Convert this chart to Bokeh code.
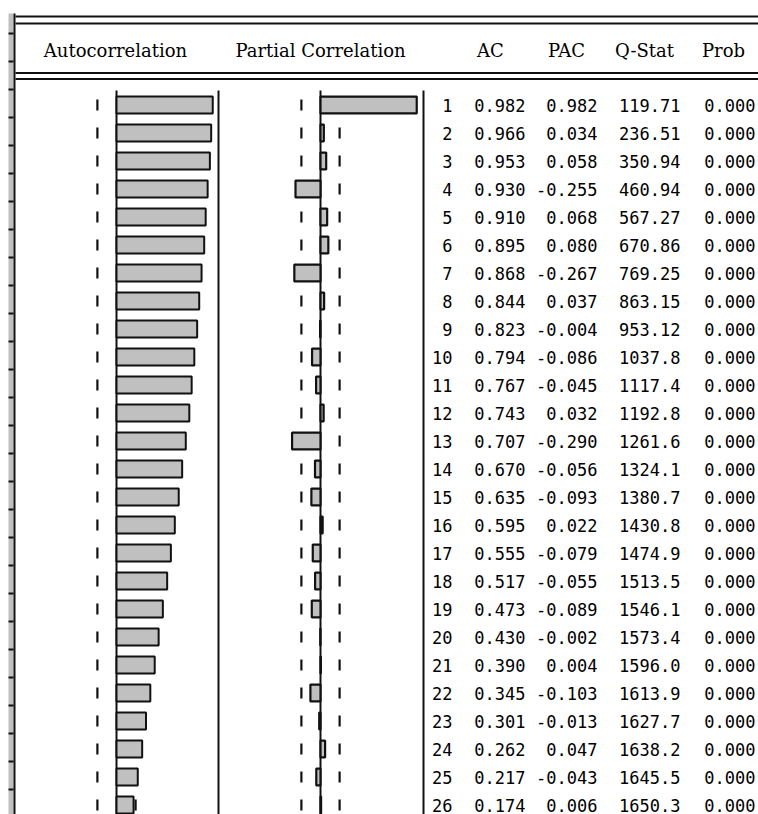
from bokeh.plotting import figure
from bokeh.models import Range1d
from bokeh.core.properties import value
from bokeh.embed import file_html
from bokeh.resources import INLINE

# ---------------- data ----------------
lags = list(range(1, 27))
ac = [0.982, 0.966, 0.953, 0.930, 0.910, 0.895, 0.868, 0.844, 0.823, 0.794,
      0.767, 0.743, 0.707, 0.670, 0.635, 0.595, 0.555, 0.517, 0.473, 0.430,
      0.390, 0.345, 0.301, 0.262, 0.217, 0.174]
pac = [0.982, 0.034, 0.058, -0.255, 0.068, 0.080, -0.267, 0.037, -0.004, -0.086,
       -0.045, 0.032, -0.290, -0.056, -0.093, 0.022, -0.079, -0.055, -0.089, -0.002,
       0.004, -0.103, -0.013, 0.047, -0.043, 0.006]
qstat = [119.71, 236.51, 350.94, 460.94, 567.27, 670.86, 769.25, 863.15, 953.12, 1037.8,
         1117.4, 1192.8, 1261.6, 1324.1, 1380.7, 1430.8, 1474.9, 1513.5, 1546.1, 1573.4,
         1596.0, 1613.9, 1627.7, 1638.2, 1645.5, 1650.3]
prob = [0.000] * 26
bound = 0.195
headers = ["Autocorrelation", "Partial Correlation", "AC", "PAC", "Q-Stat", "Prob"]

# ---------------- layout constants (pixels) ----------------
W, H = 758, 814
ROW0, ROW_H = 104.5, 28.0
SCALE = 98.0
AC_ZERO, PAC_ZERO = 116, 320

p = figure(width=W, height=H, output_backend="svg", toolbar_location=None,
           x_range=Range1d(0, W),
           y_range=Range1d(start=1 + (H - ROW0) / ROW_H, end=1 - ROW0 / ROW_H),
           min_border=0, x_axis_location=None, y_axis_location=None)
p.grid.visible = False
p.outline_line_color = None
p.background_fill_color = "white"
p.border_fill_color = "white"
p.extra_y_ranges = {"px": Range1d(start=H, end=0)}
p.extra_x_ranges = {
    "ac": Range1d(start=-AC_ZERO / SCALE, end=(W - AC_ZERO) / SCALE),
    "pac": Range1d(start=-PAC_ZERO / SCALE, end=(W - PAC_ZERO) / SCALE),
}

DARK = "#111111"

# left strip
p.quad(left=8, right=13, bottom=H, top=13, y_range_name="px",
       fill_color="#c0c0c0", line_color=None)
p.segment(x0=14, y0=13, x1=14, y1=H, y_range_name="px", line_color=DARK, line_width=2)
ticks_y = [33 + 28 * k for k in range(29)]
p.segment(x0=[8] * len(ticks_y), y0=ticks_y, x1=[13] * len(ticks_y), y1=ticks_y,
          y_range_name="px", line_color=DARK, line_width=2)

# horizontal double lines
for yy in (16, 23, 72.5, 78.5):
    p.segment(x0=15, y0=yy, x1=W, y1=yy, y_range_name="px", line_color=DARK, line_width=2)

# panel vertical lines
for xx in (AC_ZERO, 218, PAC_ZERO, 423):
    p.segment(x0=xx, y0=90, x1=xx, y1=H, y_range_name="px", line_color=DARK, line_width=2)

# dashed bounds
half = 5.5 / ROW_H
y0s = [l - half for l in lags]
y1s = [l + half for l in lags]
for rng in ("ac", "pac"):
    for b in (-bound, bound):
        p.segment(x0=[b] * 26, y0=y0s, x1=[b] * 26, y1=y1s, x_range_name=rng,
                  line_color=DARK, line_width=2.2)

# bars
bar_h = 16.8 / ROW_H
p.hbar(y=lags, left=0, right=ac, height=bar_h, x_range_name="ac",
       fill_color="#c0c0c0", line_color=DARK, line_width=2)
p.hbar(y=lags, left=0, right=pac, height=bar_h, x_range_name="pac",
       fill_color="#c0c0c0", line_color=DARK, line_width=2.2)

# headers
hx = [115, 320, 490, 566, 644, 723]
p.text(x=hx, y=[50] * 6, text=headers, y_range_name="px",
       text_align="center", text_baseline="middle",
       text_font=value("DejaVu Serif"), text_font_size="18px", text_color="#000000")

# table
num_font = dict(text_baseline="middle", text_align="right",
                text_font=value("DejaVu Sans Mono"), text_font_size="17px",
                text_color="#000000")
p.text(x=[452] * 26, y=lags, text=[str(l) for l in lags], **num_font)
p.text(x=[525] * 26, y=lags, text=["%.3f" % v for v in ac], **num_font)
p.text(x=[597] * 26, y=lags, text=["%.3f" % v for v in pac], **num_font)
p.text(x=[680] * 26, y=lags,
       text=[("%.2f" % v) if v < 1000 else ("%.1f" % v) for v in qstat], **num_font)
p.text(x=[755] * 26, y=lags, text=["%.3f" % v for v in prob], **num_font)

open("out.html", "w").write(file_html(p, INLINE))
